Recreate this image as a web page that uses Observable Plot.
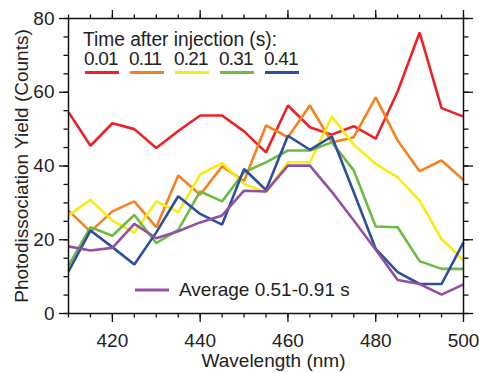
<!DOCTYPE html>
<html>
<head>
<meta charset="utf-8">
<script src="https://cdn.jsdelivr.net/npm/d3@7"></script>
<script src="https://cdn.jsdelivr.net/npm/@observablehq/plot@0.6"></script>
<style>
  body { margin: 0; background: #fff; }
  #wrap { position: relative; width: 479px; height: 373px; font-family: "Liberation Sans", Arial, Helvetica, sans-serif; }
  #wrap svg { display: block; }
  #legend { position: absolute; left: 0; top: 0; pointer-events: none; }
</style>
</head>
<body>
<div id="wrap"></div>
<script>
const wavelengths = [410,415,420,425,430,435,440,445,450,455,460,465,470,475,480,485,490,495,500];
const t001 = [54.6,45.5,51.6,50.0,44.9,49.5,53.7,53.7,49.4,43.7,56.4,50.5,48.5,50.8,47.4,60.2,76.2,55.7,53.4];
const t011 = [27.9,22.2,27.7,30.4,23.4,37.4,32.2,39.9,35.9,51.0,47.8,56.4,46.4,47.8,58.6,46.9,38.6,41.5,36.2];
const t021 = [26.6,30.8,25.2,21.9,30.4,27.5,37.7,40.8,35.1,32.9,41.0,41.0,53.4,45.8,40.6,36.9,30.6,20.2,14.4];
const t031 = [13.0,23.4,21.1,26.7,19.1,22.7,33.1,30.4,38.3,41.0,44.2,44.2,46.4,38.8,23.6,23.4,14.2,12.1,12.1];
const t041 = [11.4,22.5,18.0,13.3,22.0,31.8,27.0,24.1,39.2,33.5,48.2,44.4,48.0,32.9,17.5,11.2,8.0,8.0,19.3];
const avg051091 = [18.2,17.1,17.8,24.3,20.4,22.3,24.7,26.6,33.3,33.1,40.1,40.1,33.0,25.2,17.3,9.1,8.0,5.1,7.9];

const seriesNames = ["0.01","0.11","0.21","0.31","0.41","Average 0.51-0.91 s"];
const seriesValues = [t001, t011, t021, t031, t041, avg051091];
const seriesColors = ["#ec2227","#f58220","#f7ec13","#6cbb45","#2d4f9e","#9350a0"];

const xMajor = [420,440,460,480,500];
const xMinor = d3.range(410, 501, 5);
const yMajor = [0,20,40,60,80];
const yMinor = d3.range(0, 81, 5);

const legendTitle = "Time after injection (s):";
const xTitle = "Wavelength (nm)";
const yTitle = "Photodissociation Yield (Counts)";

const rows = [];
seriesNames.forEach((name, i) => {
  wavelengths.forEach((w, j) => rows.push({series: name, wavelength: w, value: seriesValues[i][j]}));
});

const font = "Liberation Sans, Arial, Helvetica, sans-serif";
const fs = 19;

const plot = Plot.plot({
  width: 479,
  height: 373,
  marginLeft: 68,
  marginRight: 16,
  marginTop: 18,
  marginBottom: 60,
  style: {fontFamily: font, fontSize: fs + "px", color: "#222", background: "white", overflow: "visible"},
  x: {domain: [410, 500]},
  y: {domain: [0, 80]},
  color: {domain: seriesNames, range: seriesColors},
  marks: [
    Plot.line(rows, {x: "wavelength", y: "value", z: "series", stroke: "series", strokeWidth: 2.6, strokeLinejoin: "miter", strokeLinecap: "butt"}),
    Plot.frame({stroke: "#111", strokeWidth: 1.5}),
    Plot.axisX({anchor: "bottom", ticks: xMinor, tickSize: 4.5, text: null, label: null, stroke: "#111", strokeWidth: 1.3}),
    Plot.axisX({anchor: "bottom", ticks: xMajor, tickSize: 9, tickPadding: 11, label: null, stroke: "#111", strokeWidth: 1.3, fontSize: fs, fill: "#222"}),
    Plot.axisX({anchor: "top", ticks: xMinor, tickSize: 4.5, text: null, label: null, stroke: "#111", strokeWidth: 1.3}),
    Plot.axisX({anchor: "top", ticks: xMajor, tickSize: 9, text: null, label: null, stroke: "#111", strokeWidth: 1.3}),
    Plot.axisY({anchor: "left", ticks: yMinor, tickSize: 4.5, text: null, label: null, stroke: "#111", strokeWidth: 1.3}),
    Plot.axisY({anchor: "left", ticks: yMajor, tickSize: 9, tickPadding: 5, label: null, stroke: "#111", strokeWidth: 1.3, fontSize: fs, fill: "#222"}),
    Plot.axisY({anchor: "right", ticks: yMinor, tickSize: 4.5, text: null, label: null, stroke: "#111", strokeWidth: 1.3}),
    Plot.axisY({anchor: "right", ticks: yMajor, tickSize: 9, text: null, label: null, stroke: "#111", strokeWidth: 1.3}),
    Plot.text([xTitle], {frameAnchor: "bottom", dx: 7.5, dy: 53, fontSize: fs, fill: "#222"}),
    Plot.text([yTitle], {frameAnchor: "left", textAnchor: "middle", rotate: -90, dx: -47, fontSize: fs, fill: "#222"})
  ]
});

const wrap = document.getElementById("wrap");
wrap.appendChild(plot);

// Legend overlay
const leg = d3.select(wrap).append("svg")
  .attr("id", "legend").attr("width", 479).attr("height", 373)
  .style("font-family", font).style("font-size", fs + "px");

leg.append("text").attr("x", 83).attr("y", 46).attr("fill", "#222")
  .style("font-size", "20px")
  .attr("textLength", 194).attr("lengthAdjust", "spacingAndGlyphs")
  .text(legendTitle);

const legX = [84, 129, 174, 219, 264];
for (let i = 0; i < 5; i++) {
  leg.append("text").attr("x", legX[i]).attr("y", 65).attr("fill", "#222")
    .attr("letter-spacing", "-0.8px").text(seriesNames[i]);
  leg.append("line").attr("x1", legX[i] + 1).attr("x2", legX[i] + 35)
    .attr("y1", 72.5).attr("y2", 72.5).attr("stroke", seriesColors[i]).attr("stroke-width", 3);
}
leg.append("line").attr("x1", 135).attr("x2", 169).attr("y1", 290).attr("y2", 290)
  .attr("stroke", seriesColors[5]).attr("stroke-width", 3);
leg.append("text").attr("x", 179).attr("y", 296).attr("fill", "#222").text(seriesNames[5]);
</script>
</body>
</html>
